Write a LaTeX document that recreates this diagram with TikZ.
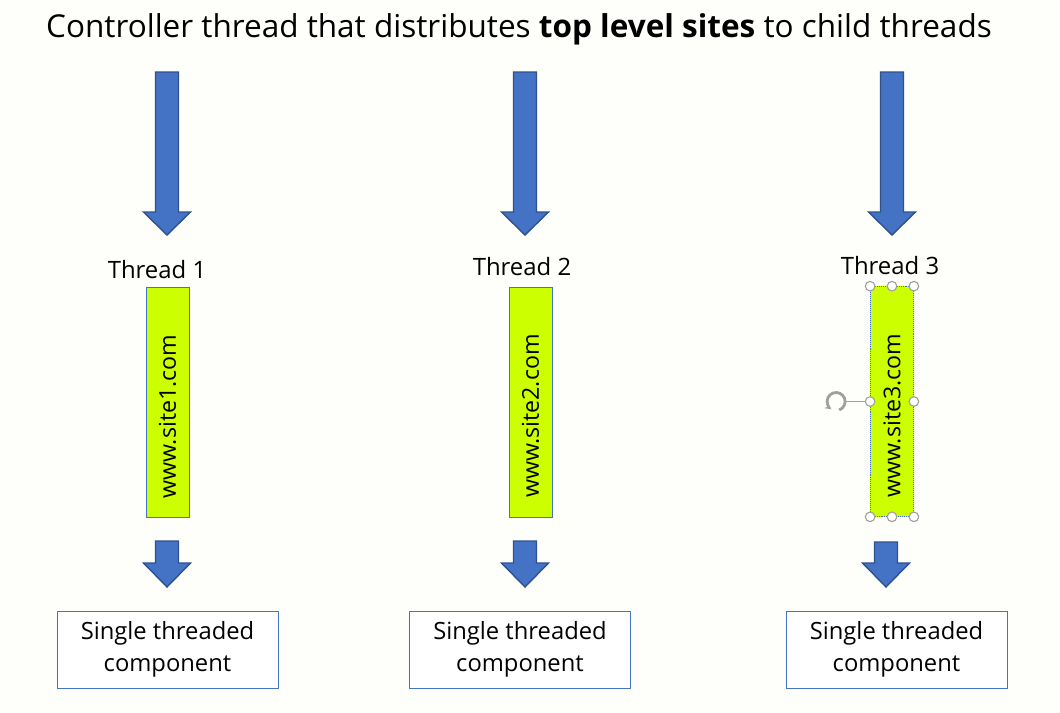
\documentclass[tikz,border=0pt]{standalone}
\usepackage{fontspec}
\setmainfont{Open Sans}
\usetikzlibrary{positioning,arrows.meta}
\definecolor{arrowblue}{HTML}{4472C4}
\definecolor{arrowedge}{HTML}{2F528F}
\definecolor{sitegreen}{HTML}{CCFF00}
\definecolor{paper}{HTML}{FEFEFA}
\definecolor{handlegray}{HTML}{A0A0A0}
% block arrow: centre x, top y, head y, tip y
\newcommand{\blockarrow}[4]{%
  \filldraw[arrowedge, fill=arrowblue, line width=1pt, line join=miter]
    (#1-11.5,#2) -- (#1+11.5,#2) -- (#1+11.5,#3) -- (#1+23.5,#3) -- (#1,#4)
    -- (#1-23.5,#3) -- (#1-11.5,#3) -- cycle;}
% site text sits low in its box
\newcommand{\sitetext}[1]{\hspace*{-0.7cm}#1}
\tikzset{
  sitebox/.style={draw=arrowblue, fill=sitegreen, rotate=90, inner sep=0pt,
    minimum width=5.75cm, minimum height=1.08cm, font=\fontsize{16.5}{18}\selectfont},
  compbox/.style={draw=arrowblue, fill=white, align=center, inner sep=0pt,
    minimum width=5.53cm, minimum height=1.93cm, font=\fontsize{16.9}{22.8}\selectfont},
  threadlabel/.style={font=\fontsize{17}{20}\selectfont},
  handle/.style={draw=handlegray, fill=white, line width=0.8pt, circle, inner sep=0pt, minimum size=0.24cm}
}
\begin{document}
\begin{tikzpicture}[x=0.025cm, y=-0.025cm]
  \fill[paper] (0,0) rectangle (1060,712);
  \useasboundingbox (0,0) rectangle (1060,712);

  \node (title) at (519,29) {\fontsize{22.4}{26}\selectfont Controller thread that distributes \textbf{top level sites} to child threads};

  % long arrows from the controller
  \blockarrow{167}{72}{212}{235}
  \blockarrow{525}{72}{212}{235}
  \blockarrow{892}{72}{212}{235}

  \node[threadlabel] (thread1) at (157,270) {Thread 1};
  \node[threadlabel] (thread2) at (522,267) {Thread 2};
  \node[threadlabel] (thread3) at (890,266) {Thread 3};

  \node[sitebox] (site1) at (167.5,402.5) {\sitetext{www.site1.com}};
  \node[sitebox] (site2) at (530.5,402) {\sitetext{www.site2.com}};
  \node[sitebox, densely dotted] (site3) at (892,401.5) {\sitetext{www.site3.com}};

  % selection handles on site3
  \draw[handlegray, line width=0.8pt] (site3.north) -- ++(-24,0) coordinate (rot);
  \draw[handlegray, line width=2pt, -{Stealth[length=5pt]}] ([shift={(-10,0)}]rot) ++(70:9) arc (70:-240:9);
  \foreach \a in {north east, east, south east, south, south west, west, north west, north}
    \node[handle] at (site3.\a) {};

  % short arrows to the components
  \blockarrow{167}{541}{563}{587}
  \blockarrow{525}{541}{563}{587}
  \blockarrow{886}{542}{563}{587}

  \node[compbox] (comp1) at (167.5,649.5) {Single threaded\\component};
  \node[compbox] (comp2) at (520,649.5) {Single threaded\\component};
  \node[compbox] (comp3) at (896.5,649.5) {Single threaded\\component};
\end{tikzpicture}
\end{document}
